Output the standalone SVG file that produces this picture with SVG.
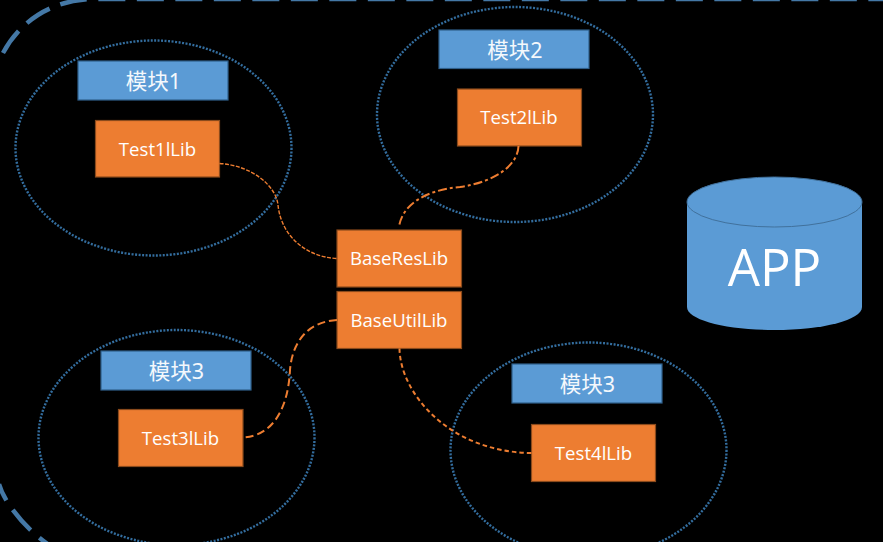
<svg xmlns="http://www.w3.org/2000/svg" width="883" height="542" viewBox="0 0 883 542">
<style>
.bg{fill:#000}
.frame{fill:none;stroke:#4478a6;stroke-width:4.500;stroke-dasharray:27 11.500}
.scope{fill:none;stroke:#336d9e;stroke-width:2.400;stroke-dasharray:2 1.500}
.mod{fill:#5b9bd5;stroke:#2f5f8a;stroke-width:1.200}
.lib{fill:#ed7d31;stroke:#8a4a1c;stroke-width:1.200}
.t{fill:#fff;font-family:"Open Sans","Noto Sans","Liberation Sans",sans-serif;font-size:18.600px;text-anchor:middle}
.c{fill:#f4f8fc;font-family:"Noto Sans","Noto Sans CJK SC",sans-serif;font-size:21.500px;text-anchor:middle}
.link{fill:none;stroke:#ed7d31}
</style>
<rect class="bg" width="883" height="542"/>
<path class="frame" d="M3 53C18 25 48 -1 96 -1H883"/>
<path class="frame" stroke-dashoffset="9" d="M-1 484C5 505 30 535 60 552"/>
<g id="module1">
<ellipse class="scope" cx="153.500" cy="148" rx="138" ry="107.500"/>
<rect class="mod" x="78" y="61" width="150" height="39"/>
<text class="c" x="153.500" y="89">模块1</text>
<rect class="lib" x="95.500" y="120.500" width="124" height="56.500"/>
<text class="t" x="157.500" y="155.500">Test1lLib</text>
</g>
<g id="module2">
<ellipse class="scope" cx="515" cy="114.500" rx="138" ry="107.500"/>
<rect class="mod" x="439" y="30" width="150" height="38.500"/>
<text class="c" x="515" y="57.500">模块2</text>
<rect class="lib" x="457.500" y="89" width="124" height="57"/>
<text class="t" x="519" y="124">Test2lLib</text>
</g>
<g id="module3">
<ellipse class="scope" cx="176.500" cy="437.500" rx="138" ry="107.500"/>
<rect class="mod" x="101" y="351" width="150" height="39"/>
<text class="c" x="176.500" y="378.500">模块3</text>
<rect class="lib" x="118.500" y="409.500" width="124.500" height="57"/>
<text class="t" x="180.500" y="445">Test3lLib</text>
</g>
<g id="module4">
<ellipse class="scope" cx="588.500" cy="450" rx="138" ry="107.500"/>
<rect class="mod" x="512" y="364" width="150" height="39"/>
<text class="c" x="587.500" y="391.500">模块3</text>
<rect class="lib" x="531.500" y="424.500" width="124" height="57"/>
<text class="t" x="593.500" y="459.500">Test4lLib</text>
</g>
<g id="baseres">
<rect class="lib" x="337" y="230" width="124.500" height="57"/>
<text class="t" x="399" y="265">BaseResLib</text>
</g>
<g id="baseutil">
<rect class="lib" x="337" y="291.500" width="124.500" height="57"/>
<text class="t" x="399" y="327">BaseUtilLib</text>
</g>
<g id="app">
<path d="M687 202V307C687 320 726 330 774.500 330S862 320 862 307V202Z" fill="#5b9bd5"/>
<ellipse cx="774.500" cy="202" rx="87.500" ry="25" fill="#5b9bd5" stroke="#41719c" stroke-width="1"/>
<text x="774.500" y="286" fill="#fff" font-family="Open Sans,Noto Sans,sans-serif" font-size="51" text-anchor="middle">APP</text>
</g>
<g id="connectors">
<path class="link" stroke-width="1.400" stroke-dasharray="4 1.500" d="M219.500 163.500C250 165 276 185 278 205C281 235 305 257 337 258.500"/>
<path class="link" stroke-width="2" stroke-dasharray="9 3 3 3" d="M518.500 146C518 165 495 182 460 187C425 190 402 205 399 227"/>
<path class="link" stroke-width="2" stroke-dasharray="8 4" d="M337 320C305 322 292 345 290 370C288 410 272 436 243 437.500"/>
<path class="link" stroke-width="2" stroke-dasharray="4.500 3" d="M399.500 348.500C400 392 448 452 531.500 453"/>
</g>
</svg>
